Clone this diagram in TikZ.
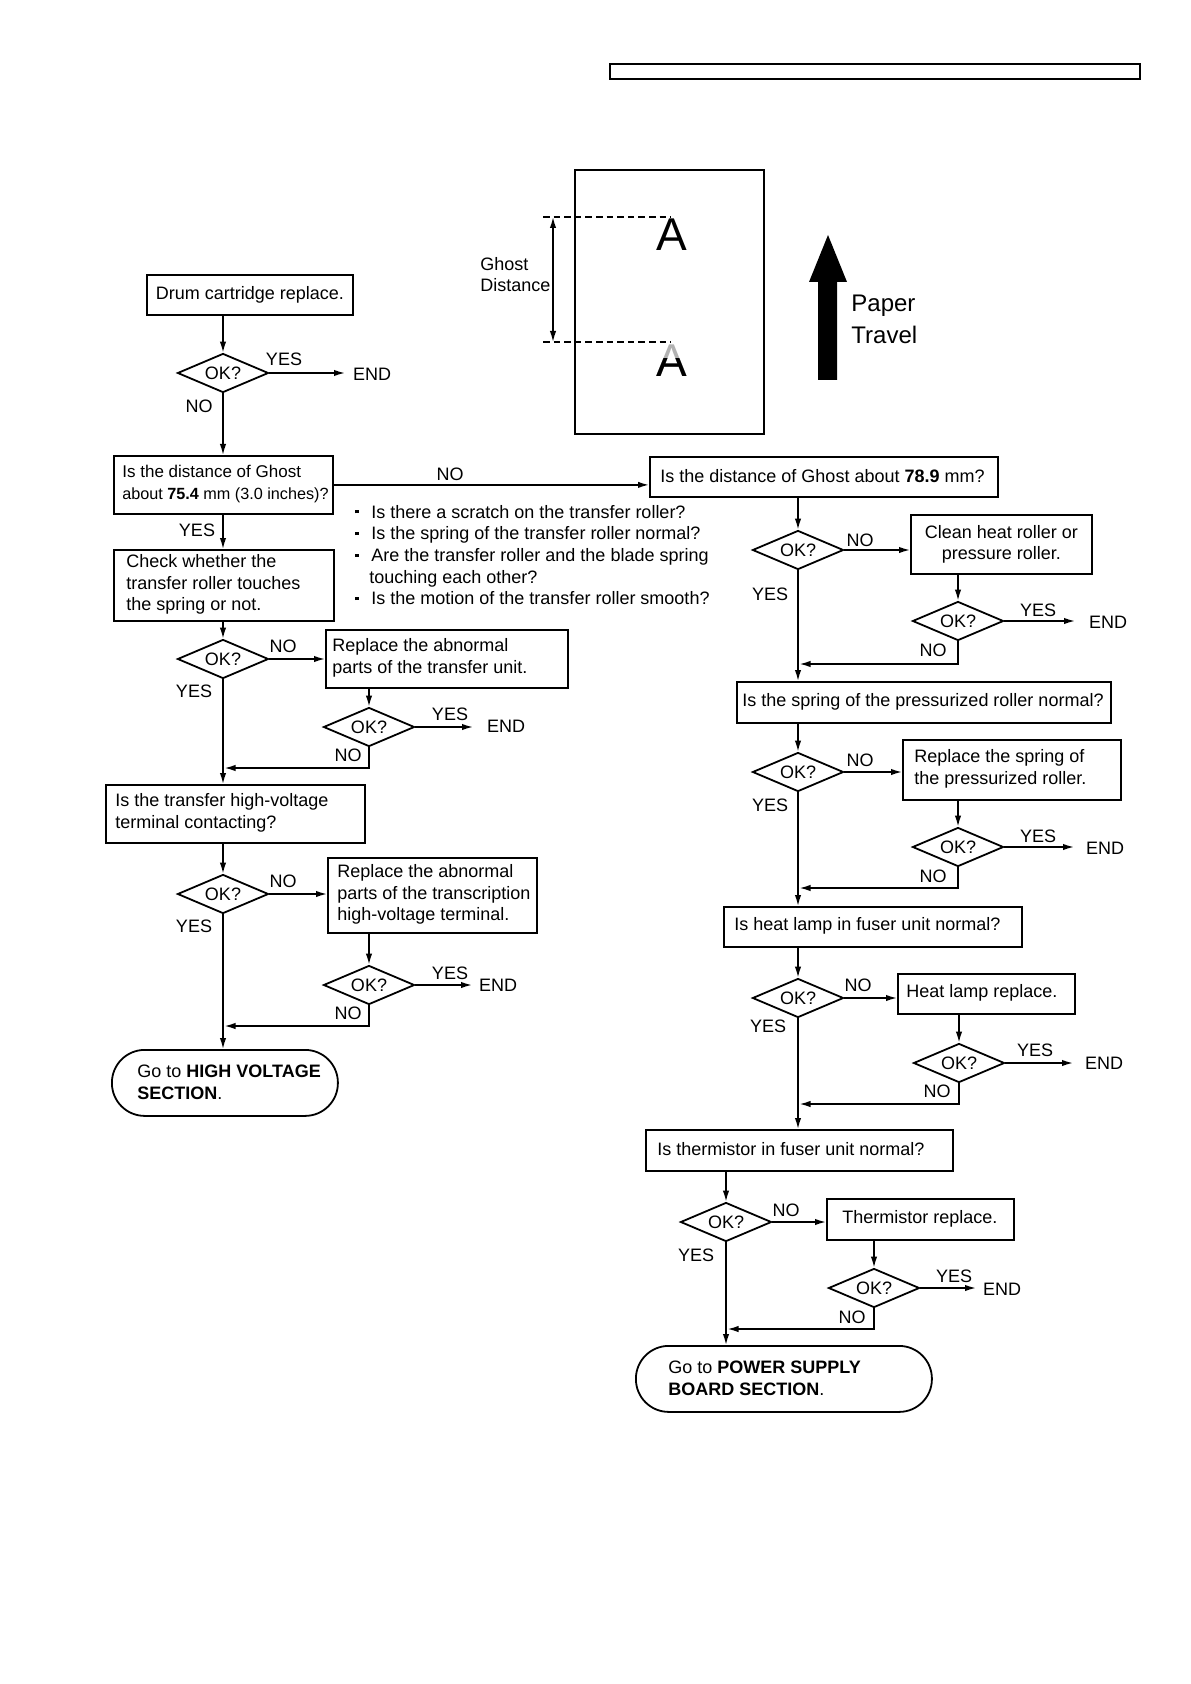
\documentclass[tikz,border=0pt]{standalone}
\usepackage{fontspec}
\setmainfont{Liberation Sans}
\usetikzlibrary{shapes.geometric,arrows.meta,calc}
\newcommand\sqbul{\makebox[9pt][l]{\hspace*{1pt}\raisebox{2.3pt}{\rule{1.6pt}{1.6pt}}}}
\begin{document}
\begin{tikzpicture}[x=0.5pt,y=-0.5pt,
  font=\fontsize{9}{10.8}\selectfont,
  box/.style={draw,line width=0.9pt,inner sep=0pt,anchor=north west},
  txt/.style={inner sep=0pt,anchor=west,align=left},
  dia/.style={draw,diamond,line width=0.9pt,inner sep=0pt,minimum width=45.5pt,minimum height=19.5pt,shape aspect=2.3},
  term/.style={draw,line width=0.9pt,rounded corners=16.4pt,inner sep=0pt,anchor=north west},
  lbl/.style={inner sep=0pt},
  arr/.style={line width=0.75pt,-{Latex[length=5.5pt,width=3.2pt]}},
  ln/.style={line width=0.75pt}]

\useasboundingbox (0,0) rectangle (1190,1684);

% header bar
\node[box,line width=0.8pt,minimum width=265pt,minimum height=7.5pt] (hdr) at (609,63) {};

% ghost figure
\node[box,minimum width=94.5pt,minimum height=132pt] (paper) at (574,169) {};
\coordinate (dt1) at (543,217); \coordinate (dt2) at (671,217);
\coordinate (db1) at (543,342); \coordinate (db2) at (671,342);
\draw[ln,dash pattern=on 3.3pt off 2pt] (dt1) -- (dt2);
\draw[ln,dash pattern=on 3.3pt off 2pt] (db1) -- (db2);
\coordinate (ga) at (553,217); \coordinate (gb) at (553,342);
\draw[line width=0.75pt,{Latex[length=5.5pt,width=3.2pt]}-{Latex[length=5.5pt,width=3.2pt]}] (ga) -- (gb);
\node[txt] (gd) at (480,274.5) {Ghost\\Distance};
\node[inner sep=0pt,font=\fontsize{23}{23}\selectfont,anchor=base] (A1) at (672,251) {A};
\node[inner sep=0pt,font=\fontsize{23}{23}\selectfont,anchor=base,text=gray!60] (A2g) at (672,377) {A};
\begin{scope}
  \clip (640,359) rectangle (705,395);
  \node[inner sep=0pt,font=\fontsize{23}{23}\selectfont,anchor=base] (A2) at (672,377) {A};
\end{scope}
\fill (828,235) -- (847,282) -- (837,282) -- (837,380) -- (818,380) -- (818,282) -- (809,282) -- cycle;
\node[txt,font=\fontsize{12}{16}\selectfont] (pt) at (851,319) {Paper\\Travel};

% ---------------- left flow ----------------
\node[box,minimum width=103pt,minimum height=20pt] (drum) at (146,274) {Drum cartridge replace.};
\node[dia] (d1) at (223,373) {OK?};
\draw[arr] (d1.north |- drum.south) -- (d1.north);
\node[lbl] (y1) at (284,359) {YES};
\coordinate (e1) at (345,373);
\draw[arr] (d1.east) -- (e1);
\node[lbl] (end1) at (372,374) {END};
\node[lbl] (n1) at (199,406) {NO};

\node[box,minimum width=109.5pt,minimum height=29pt] (g1) at (113,455) {};
\node[txt] (g1t) at (122,484) {{\fontsize{8.5}{10.8}\selectfont Is the distance of Ghost}\\{\fontsize{8.1}{10.8}\selectfont about \textbf{75.4} mm (3.0 inches)?}};
\draw[arr] (d1.south) -- (g1.north -| d1.south);

\node[box,minimum width=174pt,minimum height=20pt] (g2) at (649,456) {};
\node[txt] (g2t) at (660,476) {Is the distance of Ghost about \textbf{78.9} mm?};
\draw[arr] (g1.east) -- (g1.east -| g2.west);
\node[lbl] (n0) at (450,474) {NO};

\node[lbl] (y0) at (197,530) {YES};
\node[box,minimum width=110pt,minimum height=35.5pt] (chk) at (113,549) {};
\node[txt] (chkt) at (126,584.5) {Check whether the\\transfer roller touches\\the spring or not.};
\draw[arr] (g1.south -| d1.south) -- (chk.north -| d1.south);

\node[inner sep=0pt,anchor=base west] (b1) at (353,518) {\sqbul Is there a scratch on the transfer roller?};
\node[inner sep=0pt,anchor=base west] (b2) at (353,539.7) {\sqbul Is the spring of the transfer roller normal?};
\node[inner sep=0pt,anchor=base west] (b3) at (353,561.4) {\sqbul Are the transfer roller and the blade spring};
\node[inner sep=0pt,anchor=base west] (b4) at (353,583.1) {\hspace*{8pt}touching each other?};
\node[inner sep=0pt,anchor=base west] (b5) at (353,604.8) {\sqbul Is the motion of the transfer roller smooth?};

\node[dia] (d2) at (223,659) {OK?};
\draw[arr] (chk.south -| d2.north) -- (d2.north);
\node[lbl] (n2) at (283,646) {NO};
\node[box,minimum width=121pt,minimum height=29pt] (r1) at (325,629) {};
\node[txt] (r1t) at (332,658) {Replace the abnormal\\parts of the transfer unit.};
\draw[arr] (d2.east) -- (d2.east -| r1.west);
\node[lbl] (y2) at (194,691) {YES};

\node[dia] (d3) at (369,727) {OK?};
\draw[arr] (d3.north |- r1.south) -- (d3.north);
\node[lbl] (y3) at (450,714) {YES};
\coordinate (e3) at (473,727);
\draw[arr] (d3.east) -- (e3);
\node[lbl] (end3) at (506,726) {END};
\node[lbl] (n3) at (348,755) {NO};
\coordinate (m3) at (224.5,768);
\draw[arr] (d3.south) |- (m3);

\node[box,minimum width=129.5pt,minimum height=29pt] (tr) at (105,784) {};
\node[txt] (trt) at (115,813) {Is the transfer high-voltage\\terminal contacting?};
\draw[arr] (d2.south) -- (d2.south |- tr.north);

\node[dia] (d4) at (223,894) {OK?};
\draw[arr] (tr.south -| d4.north) -- (d4.north);
\node[lbl] (n4) at (283,881) {NO};
\node[box,minimum width=104.5pt,minimum height=37.5pt] (r2) at (327,857) {};
\node[txt] (r2t) at (337,894.5) {Replace the abnormal\\parts of the transcription\\high-voltage terminal.};
\draw[arr] (d4.east) -- (d4.east -| r2.west);
\node[lbl] (y4) at (194,926) {YES};

\node[dia] (d5) at (369,985) {OK?};
\draw[arr] (d5.north |- r2.south) -- (d5.north);
\node[lbl] (y5) at (450,973) {YES};
\coordinate (e5) at (472,985);
\draw[arr] (d5.east) -- (e5);
\node[lbl] (end5) at (498,985) {END};
\node[lbl] (n5) at (348,1013) {NO};
\coordinate (m5) at (224.5,1026);
\draw[arr] (d5.south) |- (m5);

\node[term,minimum width=113pt,minimum height=33pt] (hv) at (111,1049) {};
\node[txt] (hvt) at (137,1082) {Go to \textbf{HIGH VOLTAGE}\\\textbf{SECTION}.};
\draw[arr] (d4.south) -- (d4.south |- hv.north);

% ---------------- right flow ----------------
\node[dia] (d6) at (798,550) {OK?};
\draw[arr] (g2.south -| d6.north) -- (d6.north);
\node[lbl] (n6) at (860,540) {NO};
\node[box,align=center,minimum width=90.5pt,minimum height=29.5pt] (c1) at (910,514) {Clean heat roller or\\pressure roller.};
\draw[arr] (d6.east) -- (d6.east -| c1.west);
\node[lbl] (y6) at (770,594) {YES};

\node[dia] (d7) at (958,621) {OK?};
\draw[arr] (d7.north |- c1.south) -- (d7.north);
\node[lbl] (y7) at (1038,610) {YES};
\coordinate (e7) at (1075,621);
\draw[arr] (d7.east) -- (e7);
\node[lbl] (end7) at (1108,622) {END};
\node[lbl] (n7) at (933,650) {NO};
\coordinate (m7) at (799.5,664);
\draw[arr] (d7.south) |- (m7);

\node[box,minimum width=187pt,minimum height=20.5pt] (sp) at (736,681) {};
\node[txt] (spt) at (742,701.5) {Is the spring of the pressurized roller normal?};
\draw[arr] (d6.south) -- (d6.south |- sp.north);

\node[dia] (d8) at (798,772) {OK?};
\draw[arr] (sp.south -| d8.north) -- (d8.north);
\node[lbl] (n8) at (860,760) {NO};
\node[box,minimum width=109pt,minimum height=30pt] (rs) at (902,739) {};
\node[txt] (rst) at (914,769) {Replace the spring of\\the pressurized roller.};
\draw[arr] (d8.east) -- (d8.east -| rs.west);
\node[lbl] (y8) at (770,805) {YES};

\node[dia] (d9) at (958,847) {OK?};
\draw[arr] (d9.north |- rs.south) -- (d9.north);
\node[lbl] (y9) at (1038,836) {YES};
\coordinate (e9) at (1074,847);
\draw[arr] (d9.east) -- (e9);
\node[lbl] (end9) at (1105,848) {END};
\node[lbl] (n9) at (933,876) {NO};
\coordinate (m9) at (799.5,888);
\draw[arr] (d9.south) |- (m9);

\node[box,minimum width=149pt,minimum height=20pt] (hq) at (723,906) {};
\node[txt] (hqt) at (734,926) {Is heat lamp in fuser unit normal?};
\draw[arr] (d8.south) -- (d8.south |- hq.north);

\node[dia] (d10) at (798,998) {OK?};
\draw[arr] (hq.south -| d10.north) -- (d10.north);
\node[lbl] (n10) at (858,985) {NO};
\node[box,minimum width=88.5pt,minimum height=20pt] (hr) at (897,973) {};
\node[txt] (hrt) at (906,993) {Heat lamp replace.};
\draw[arr] (d10.east) -- (d10.east -| hr.west);
\node[lbl] (y10) at (768,1026) {YES};

\node[dia] (d11) at (959,1063) {OK?};
\draw[arr] (d11.north |- hr.south) -- (d11.north);
\node[lbl] (y11) at (1035,1050) {YES};
\coordinate (e11) at (1073,1063);
\draw[arr] (d11.east) -- (e11);
\node[lbl] (end11) at (1104,1063) {END};
\node[lbl] (n11) at (937,1091) {NO};
\coordinate (m11) at (799.5,1104);
\draw[arr] (d11.south) |- (m11);

\node[box,minimum width=153.5pt,minimum height=20.5pt] (th) at (645,1129) {};
\node[txt] (tht) at (657,1149.5) {Is thermistor in fuser unit normal?};
\draw[arr] (d10.south) -- (d10.south |- th.north);

\node[dia] (d12) at (726,1222) {OK?};
\draw[arr] (d12.north |- th.south) -- (d12.north);
\node[lbl] (n12) at (786,1210) {NO};
\node[box,minimum width=93.5pt,minimum height=20.5pt] (tr2) at (826,1198) {};
\node[txt] (tr2t) at (842,1218.5) {Thermistor replace.};
\draw[arr] (d12.east) -- (d12.east -| tr2.west);
\node[lbl] (y12) at (696,1255) {YES};

\node[dia] (d13) at (874,1288) {OK?};
\draw[arr] (d13.north |- tr2.south) -- (d13.north);
\node[lbl] (y13) at (954,1276) {YES};
\coordinate (e13) at (976,1288);
\draw[arr] (d13.east) -- (e13);
\node[lbl] (end13) at (1002,1289) {END};
\node[lbl] (n13) at (852,1317) {NO};
\coordinate (m13) at (727.5,1329);
\draw[arr] (d13.south) |- (m13);

\node[term,minimum width=148pt,minimum height=33pt] (ps) at (635,1345) {};
\node[txt] (pst) at (668,1378) {Go to \textbf{POWER SUPPLY}\\\textbf{BOARD SECTION}.};
\draw[arr] (d12.south) -- (d12.south |- ps.north);

\end{tikzpicture}
\end{document}
